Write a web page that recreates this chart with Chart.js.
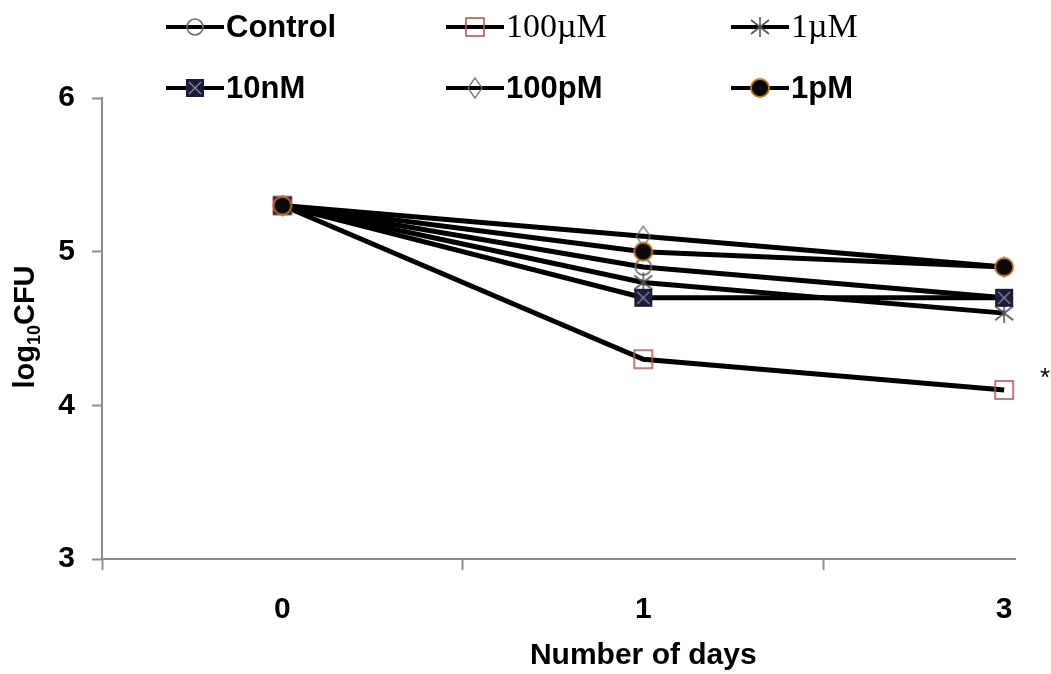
<!DOCTYPE html>
<html>
<head>
<meta charset="utf-8">
<script src="https://cdn.jsdelivr.net/npm/chart.js@4.4.1/dist/chart.umd.min.js"></script>
<style>
  html, body { margin: 0; padding: 0; background: #fff; overflow: hidden; }
  #wrap { width: 1051px; height: 674px; position: relative; }
</style>
</head>
<body>
<div id="wrap"><canvas id="chart"></canvas></div>
<script>
// Daten
const days = ['0', '1', '3'];
const seriesNames = ['Control', '100\u00b5M', '1\u00b5M', '10nM', '100pM', '1pM'];
const control = [5.3, 4.9, 4.7];
const uM100 = [5.3, 4.3, 4.1];
const uM1 = [5.3, 4.8, 4.6];
const nM10 = [5.3, 4.7, 4.7];
const pM100 = [5.3, 5.1, 4.9];
const pM1 = [5.3, 5.0, 4.9];
const yTicks = [3, 4, 5, 6];

const SANS = '"Liberation Sans", Arial, sans-serif';
const SERIF = '"Liberation Serif", "Times New Roman", serif';

// kleine Canvas-Marker, wie im Excel-Original
function makeMarker(w, h, draw) {
    const c = document.createElement('canvas');
    c.width = w; c.height = h;
    const g = c.getContext('2d');
    draw(g, w, h);
    return c;
}

const mkCircleOpen = makeMarker(20, 20, (g) => {
    g.strokeStyle = '#6a6a6a'; g.lineWidth = 1.6;
    g.beginPath(); g.arc(10, 10, 8, 0, Math.PI * 2); g.stroke();
});
const mkSquareOpen = makeMarker(22, 22, (g) => {
    g.strokeStyle = '#b05a55'; g.lineWidth = 1.6;
    g.strokeRect(2, 2, 18, 18);
});
const mkStar = makeMarker(24, 24, (g) => {
    g.strokeStyle = '#555'; g.lineWidth = 1.6;
    g.beginPath();
    g.moveTo(12, 2); g.lineTo(12, 22);
    g.moveTo(3, 5); g.lineTo(21, 19);
    g.moveTo(21, 5); g.lineTo(3, 19);
    g.stroke();
});
const mkSquareX = makeMarker(20, 20, (g) => {
    g.fillStyle = '#1c1c36'; g.fillRect(1, 1, 18, 18);
    g.strokeStyle = '#8a8aa0'; g.lineWidth = 1.2;
    g.beginPath();
    g.moveTo(4, 4); g.lineTo(16, 16);
    g.moveTo(16, 4); g.lineTo(4, 16);
    g.stroke();
});
const mkDiamond = makeMarker(16, 22, (g) => {
    g.strokeStyle = '#6a6a6a'; g.lineWidth = 1.3;
    g.beginPath();
    g.moveTo(8, 1); g.lineTo(15, 11); g.lineTo(8, 21); g.lineTo(1, 11); g.closePath();
    g.stroke();
});
const mkDot = makeMarker(22, 22, (g) => {
    g.fillStyle = '#0a0a0a'; g.strokeStyle = '#c27b32'; g.lineWidth = 1.8;
    g.beginPath(); g.arc(11, 11, 9, 0, Math.PI * 2); g.fill(); g.stroke();
});

const allValues = [control, uM100, uM1, nM10, pM100, pM1];
const markers = [mkCircleOpen, mkSquareOpen, mkStar, mkSquareX, mkDiamond, mkDot];
const legendFonts = [
    'bold 31px ' + SANS, '34px ' + SERIF, '34px ' + SERIF,
    'bold 31px ' + SANS, 'bold 31px ' + SANS, 'bold 31px ' + SANS
];

const datasets = allValues.map((vals, i) => ({
    label: seriesNames[i],
    data: vals.map((v, k) => ({ x: k, y: v })),
    borderColor: '#000',
    borderWidth: 5,
    pointStyle: markers[i],
    pointRadius: 10,
    pointHoverRadius: 10,
    tension: 0,
    fill: false,
    order: 5 - i
}));

// Legende in zwei Reihen, drei Spalten
const legendPlugin = {
    id: 'gridLegend',
    afterDraw(chart) {
        const ctx = chart.ctx;
        const colX = [166, 446, 731];
        const rowY = [27, 88];
        ctx.save();
        seriesNames.forEach((name, i) => {
            const x = colX[i % 3];
            const y = rowY[Math.floor(i / 3)];
            ctx.strokeStyle = '#000';
            ctx.lineWidth = 4;
            ctx.beginPath();
            ctx.moveTo(x, y); ctx.lineTo(x + 58, y);
            ctx.stroke();
            const m = markers[i];
            ctx.drawImage(m, x + 29 - m.width / 2, y - m.height / 2);
            ctx.fillStyle = '#000';
            ctx.font = legendFonts[i];
            ctx.textBaseline = 'middle';
            ctx.textAlign = 'left';
            ctx.fillText(name, x + 60, y + 1);
        });
        ctx.restore();
    }
};

// Achsentitel (y mit tiefgestellter 10), plus Sternchen
const extrasPlugin = {
    id: 'extras',
    afterDraw(chart) {
        const ctx = chart.ctx;
        const xScale = chart.scales.x;
        const yScale = chart.scales.y;
        ctx.save();
        ctx.translate(24, 327);
        ctx.rotate(-Math.PI / 2);
        ctx.fillStyle = '#000';
        ctx.textBaseline = 'alphabetic';
        const big = 'bold 29px ' + SANS;
        const small = 'bold 18px ' + SANS;
        ctx.font = big; const w1 = ctx.measureText('log').width;
        ctx.font = small; const w2 = ctx.measureText('10').width;
        ctx.font = big; const w3 = ctx.measureText('CFU').width;
        let x = -(w1 + w2 + w3) / 2;
        ctx.font = big; ctx.fillText('log', x, 10); x += w1;
        ctx.font = small; ctx.fillText('10', x, 16); x += w2;
        ctx.font = big; ctx.fillText('CFU', x, 10);
        ctx.restore();

        ctx.save();
        ctx.fillStyle = '#000';
        ctx.font = 'bold 30px ' + SANS;
        ctx.textAlign = 'center';
        ctx.textBaseline = 'middle';
        ctx.fillText('Number of days', xScale.getPixelForValue(1), 656);
        ctx.font = '26px ' + SANS;
        ctx.fillText('*', chart.chartArea.right + 30, yScale.getPixelForValue(4.2) + 4);
        ctx.restore();
    }
};

const ctx = document.getElementById('chart').getContext('2d');
const myChart = new Chart(ctx, {
    type: 'line',
    data: { datasets: datasets },
    options: {
        responsive: true,
        maintainAspectRatio: false,
        animation: false,
        layout: { padding: { top: 98, right: 36, left: 0, bottom: 0 } },
        plugins: { legend: { display: false }, tooltip: { enabled: false } },
        scales: {
            x: {
                type: 'linear',
                min: -0.5,
                max: 2.03,
                afterFit: (s) => { s.height = 115; },
                border: { color: '#8c8c8c', width: 2 },
                grid: {
                    drawOnChartArea: false,
                    tickLength: 11,
                    tickWidth: 2,
                    tickColor: (c) => (c.tick && !Number.isInteger(c.tick.value)) ? '#8c8c8c' : 'rgba(0,0,0,0)'
                },
                ticks: {
                    stepSize: 0.5,
                    includeBounds: false,
                    autoSkip: false,
                    maxRotation: 0,
                    padding: 22,
                    color: '#000',
                    font: { family: SANS, size: 30, weight: 'bold' },
                    callback: (v) => Number.isInteger(v) ? days[v] : ''
                },
                title: { display: false }
            },
            y: {
                min: yTicks[0],
                max: yTicks[yTicks.length - 1],
                afterFit: (s) => { s.width = 102; },
                border: { color: '#8c8c8c', width: 2 },
                grid: { drawOnChartArea: false, tickLength: 10, tickWidth: 2, tickColor: '#8c8c8c' },
                afterBuildTicks: (s) => { s.ticks = yTicks.map(v => ({ value: v })); },
                ticks: {
                    padding: 17,
                    color: '#000',
                    font: { family: SANS, size: 30, weight: 'bold' }
                }
            }
        }
    },
    plugins: [legendPlugin, extrasPlugin]
});
</script>
</body>
</html>
